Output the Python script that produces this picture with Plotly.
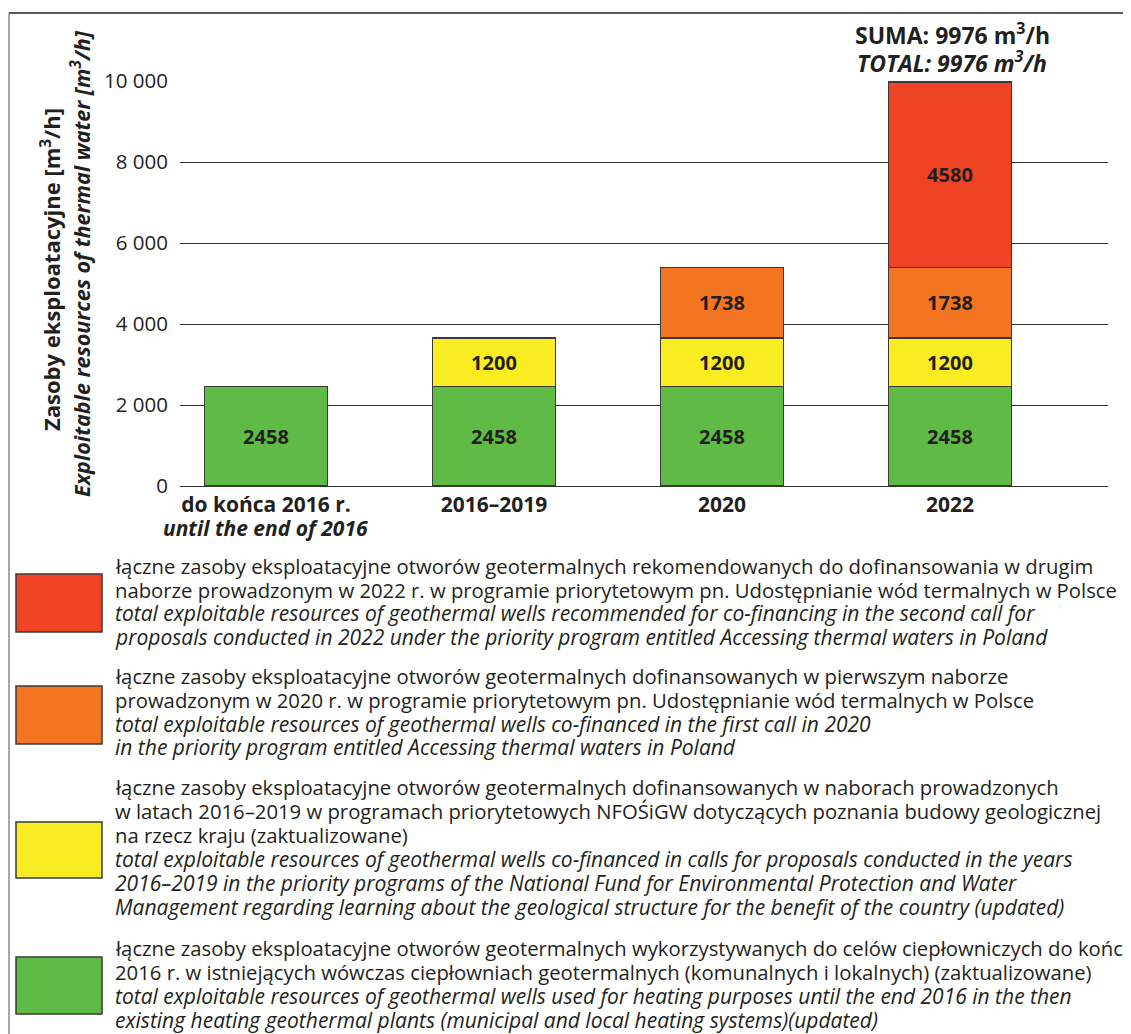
import plotly.graph_objects as go

# ---------------- data ----------------
categories = ["do końca 2016 r.", "2016–2019", "2020", "2022"]
category_sub = ["until the end of 2016", "", "", ""]
green_vals = [2458, 2458, 2458, 2458]
yellow_vals = [None, 1200, 1200, 1200]
orange_vals = [None, None, 1738, 1738]
red_vals = [None, None, None, 4580]
total_label = "9976"
y_tickvals = [0, 2000, 4000, 6000, 8000, 10000]
y_ticktext = ["0", "2 000", "4 000", "6 000", "8 000", "10 000"]

legend_red = [
    ("łączne zasoby eksploatacyjne otworów geotermalnych rekomendowanych do dofinansowania w drugim", False),
    ("naborze prowadzonym w 2022 r. w programie priorytetowym pn. Udostępnianie wód termalnych w Polsce", False),
    ("total exploitable resources of geothermal wells recommended for co-financing in the second call for", True),
    ("proposals conducted in 2022 under the priority program entitled Accessing thermal waters in Poland", True),
]
legend_orange = [
    ("łączne zasoby eksploatacyjne otworów geotermalnych dofinansowanych w pierwszym naborze", False),
    ("prowadzonym w 2020 r. w programie priorytetowym pn. Udostępnianie wód termalnych w Polsce", False),
    ("total exploitable resources of geothermal wells co-financed in the first call in 2020", True),
    ("in the priority program entitled Accessing thermal waters in Poland", True),
]
legend_yellow = [
    ("łączne zasoby eksploatacyjne otworów geotermalnych dofinansowanych w naborach prowadzonych", False),
    ("w latach 2016–2019 w programach priorytetowych NFOŚiGW dotyczących poznania budowy geologicznej", False),
    ("na rzecz kraju (zaktualizowane)", False),
    ("total exploitable resources of geothermal wells co-financed in calls for proposals conducted in the years", True),
    ("2016–2019 in the priority programs of the National Fund for Environmental Protection and Water", True),
    ("Management regarding learning about the geological structure for the benefit of the country (updated)", True),
]
legend_green = [
    ("łączne zasoby eksploatacyjne otworów geotermalnych wykorzystywanych do celów ciepłowniczych do końca", False),
    ("2016 r. w istniejących wówczas ciepłowniach geotermalnych (komunalnych i lokalnych) (zaktualizowane)", False),
    ("total exploitable resources of geothermal wells used for heating purposes until the end 2016 in the then", True),
    ("existing heating geothermal plants (municipal and local heating systems)(updated)", True),
]

RED = "#EE4423"
ORANGE = "#F37521"
YELLOW = "#F9EC22"
GREEN = "#60BA46"
TXT = "#231F20"
FONT = "Open Sans"

OFF = 8  # page body margin
W, H = 1131 - OFF, 1034 - OFF
PL, PR, PT, PB = 180 - OFF, 1108 - OFF, 81 - OFF, 486 - OFF  # plot area in figure pixels


def px(x):  # x given in reference page pixels
    return (x - OFF - PL) / (PR - PL)


def py(y):
    return (PB - (y - OFF)) / (PB - PT)


xs = list(range(len(categories)))
fig = go.Figure()
for vals, col in [(green_vals, GREEN), (yellow_vals, YELLOW), (orange_vals, ORANGE), (red_vals, RED)]:
    fig.add_trace(go.Bar(
        x=xs, y=vals, width=0.54,
        marker=dict(color=col, line=dict(color="#3A3A3A", width=1.5)),
        text=[("" if v is None else f"<b>{v}</b>") for v in vals],
        textposition="inside", insidetextanchor="middle",
        textfont=dict(family=FONT, size=20, color=TXT),
        hoverinfo="skip", showlegend=False,
    ))

annotations = []
# total label
annotations.append(dict(
    xref="paper", yref="paper", x=px(952), y=py(34), xanchor="center", yanchor="middle",
    text=f"<b>SUMA: {total_label} m<sup>3</sup>/h</b>", borderpad=0,
    showarrow=False, font=dict(family=FONT, size=23, color=TXT),
))
annotations.append(dict(
    xref="paper", yref="paper", x=px(952), y=py(62), xanchor="center", yanchor="middle",
    text=f"<b><i>TOTAL: {total_label} m<sup>3</sup>/h</i></b>", borderpad=0,
    showarrow=False, font=dict(family=FONT, size=23, color=TXT),
))
# y-axis titles
annotations.append(dict(
    xref="paper", yref="paper", x=px(50), y=py(270), xanchor="center", yanchor="middle",
    text="<b>Zasoby eksploatacyjne [m<sup>3</sup>/h]</b>", textangle=-90, borderpad=0,
    showarrow=False, font=dict(family=FONT, size=22, color=TXT),
))
annotations.append(dict(
    xref="paper", yref="paper", x=px(80), y=py(264), xanchor="center", yanchor="middle",
    text="<b><i>Exploitable resources of thermal water [m<sup>3</sup>/h]</i></b>", textangle=-90, borderpad=0,
    showarrow=False, font=dict(family=FONT, size=21.5, color=TXT),
))
# second line of category labels
for xi, sub in zip(xs, category_sub):
    if sub:
        annotations.append(dict(
            xref="x", yref="paper", x=xi, y=py(528), xanchor="center", yanchor="middle",
            text=f"<b><i>{sub}</i></b>", showarrow=False, borderpad=0,
            font=dict(family=FONT, size=21, color=TXT),
        ))

# legend blocks
blocks = [legend_red, legend_orange, legend_yellow, legend_green]
line_ys = [
    [566, 590, 613, 637],
    [676, 700, 724, 747],
    [787, 811, 835, 859, 883, 907],
    [948, 972, 996, 1020],
]
box_tops = [574, 686, 822, 957]
box_bots = [632, 744, 878, 1014]
colors = [RED, ORANGE, YELLOW, GREEN]
shapes = []
for t, b, c, lines, ys in zip(box_tops, box_bots, colors, blocks, line_ys):
    shapes.append(dict(type="rect", xref="paper", yref="paper",
                       x0=px(16), x1=px(102), y0=py(b), y1=py(t),
                       fillcolor=c, line=dict(color="#3A3A3A", width=1.5)))
    for (txt, ital), yy in zip(lines, ys):
        annotations.append(dict(
            xref="paper", yref="paper", x=px(114), y=py(yy), xanchor="left", yanchor="middle",
            text=(f"<i>{txt}</i>" if ital else txt), align="left", showarrow=False, borderpad=0,
            font=dict(family=FONT, size=(21.0 if ital else 20.3), color=TXT),
        ))

# frame lines
shapes.append(dict(type="line", xref="paper", yref="paper", x0=px(9), x1=px(1131), y0=py(13), y1=py(13),
                   line=dict(color="#231F20", width=1.5)))
shapes.append(dict(type="line", xref="paper", yref="paper", x0=px(9), x1=px(9), y0=py(13), y1=py(1034),
                   line=dict(color="#8A8A8A", width=1.5)))

fig.update_layout(
    width=W, height=H,
    margin=dict(l=PL, r=W - PR, t=PT, b=H - PB, pad=0),
    barmode="stack",
    plot_bgcolor="white", paper_bgcolor="white",
    font=dict(family=FONT, color=TXT),
    xaxis=dict(
        range=[-0.377, 3.693], tickvals=xs,
        ticktext=[f"<b>{c}</b>" for c in categories],
        tickfont=dict(family=FONT, size=21, color=TXT),
        showgrid=False, zeroline=False, showline=False, ticks="",
        ticklabelstandoff=4,
        fixedrange=True,
    ),
    yaxis=dict(
        range=[0, 10000], tickvals=y_tickvals, ticktext=y_ticktext,
        tickfont=dict(family=FONT, size=20.5, color=TXT),
        showgrid=True, gridcolor="#333333", gridwidth=1.3,
        zeroline=True, zerolinecolor="#333333", zerolinewidth=1.3,
        showline=False, ticks="", ticklabelstandoff=11,
        fixedrange=True,
    ),
    annotations=annotations,
    shapes=shapes,
)

fig.write_html("out.html")
